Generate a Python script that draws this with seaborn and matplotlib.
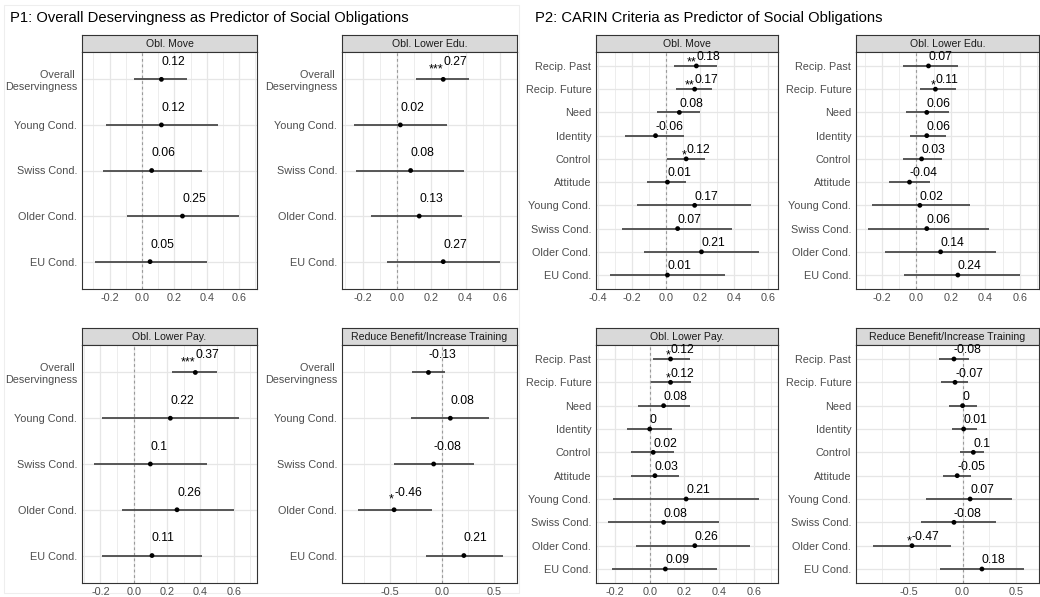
import numpy as np
import pandas as pd
import matplotlib
matplotlib.use("Agg")
import matplotlib.pyplot as plt
from matplotlib.patches import Rectangle
from matplotlib.ticker import MultipleLocator
import seaborn as sns

# ---------------------------------------------------------------- data
p1_terms = ["Overall \nDeservingness", "Young Cond.", "Swiss Cond.",
            "Older Cond.", "EU Cond."]
p2_terms = ["Recip. Past", "Recip. Future", "Need", "Identity", "Control",
            "Attitude", "Young Cond.", "Swiss Cond.", "Older Cond.", "EU Cond."]

# P1: overall deservingness models
p1_move_est = [0.12, 0.12, 0.06, 0.25, 0.05]
p1_move_lo = [-0.05, -0.22, -0.24, -0.09, -0.29]
p1_move_hi = [0.28, 0.47, 0.37, 0.60, 0.40]
p1_move_sig = ["", "", "", "", ""]

p1_edu_est = [0.27, 0.02, 0.08, 0.13, 0.27]
p1_edu_lo = [0.11, -0.25, -0.24, -0.15, -0.06]
p1_edu_hi = [0.42, 0.29, 0.39, 0.38, 0.60]
p1_edu_sig = ["***", "", "", "", ""]

p1_pay_est = [0.37, 0.22, 0.10, 0.26, 0.11]
p1_pay_lo = [0.23, -0.19, -0.24, -0.07, -0.19]
p1_pay_hi = [0.50, 0.63, 0.44, 0.60, 0.41]
p1_pay_sig = ["***", "", "", "", ""]

p1_red_est = [-0.13, 0.08, -0.08, -0.46, 0.21]
p1_red_lo = [-0.29, -0.30, -0.46, -0.81, -0.15]
p1_red_hi = [0.03, 0.45, 0.31, -0.10, 0.59]
p1_red_sig = ["", "", "", "*", ""]

# P2: CARIN criteria models
p2_move_est = [0.18, 0.17, 0.08, -0.06, 0.12, 0.01, 0.17, 0.07, 0.21, 0.01]
p2_move_lo = [0.05, 0.06, -0.05, -0.24, 0.01, -0.11, -0.17, -0.26, -0.13, -0.33]
p2_move_hi = [0.30, 0.27, 0.20, 0.11, 0.23, 0.12, 0.50, 0.39, 0.55, 0.35]
p2_move_sig = ["**", "**", "", "", "*", "", "", "", "", ""]

p2_edu_est = [0.07, 0.11, 0.06, 0.06, 0.03, -0.04, 0.02, 0.06, 0.14, 0.24]
p2_edu_lo = [-0.08, 0.02, -0.06, -0.04, -0.08, -0.16, -0.26, -0.28, -0.18, -0.07]
p2_edu_hi = [0.24, 0.23, 0.19, 0.17, 0.15, 0.08, 0.31, 0.42, 0.46, 0.60]
p2_edu_sig = ["", "*", "", "", "", "", "", "", "", ""]

p2_pay_est = [0.12, 0.12, 0.08, 0, 0.02, 0.03, 0.21, 0.08, 0.26, 0.09]
p2_pay_lo = [0.02, 0.01, -0.07, -0.13, -0.11, -0.11, -0.21, -0.24, -0.08, -0.22]
p2_pay_hi = [0.23, 0.24, 0.23, 0.13, 0.14, 0.17, 0.63, 0.40, 0.58, 0.39]
p2_pay_sig = ["*", "*", "", "", "", "", "", "", "", ""]

p2_red_est = [-0.08, -0.07, 0, 0.01, 0.10, -0.05, 0.07, -0.08, -0.47, 0.18]
p2_red_lo = [-0.22, -0.20, -0.13, -0.10, -0.02, -0.18, -0.34, -0.39, -0.83, -0.21]
p2_red_hi = [0.06, 0.05, 0.13, 0.13, 0.20, 0.08, 0.46, 0.31, -0.11, 0.57]
p2_red_sig = ["", "", "", "", "", "", "", "", "*", ""]

facet_titles = ["Obl. Move", "Obl. Lower Edu.", "Obl. Lower Pay.",
                "Reduce Benefit/Increase Training"]
group_titles = ["P1: Overall Deservingness as Predictor of Social Obligations",
                "P2: CARIN Criteria as Predictor of Social Obligations"]

# ---------------------------------------------------------------- style
sns.set_theme(style="white")
plt.rcParams["font.family"] = ["Liberation Sans", "DejaVu Sans"]

W, H = 1040, 597
fig = plt.figure(figsize=(W / 100, H / 100), dpi=100)
fig.patch.set_facecolor("white")

GRID = "#E6E6E6"
BORDER = "#333333"
TICKTXT = "#4D4D4D"


def px_rect(x0, y0, x1, y1):
    return [x0 / W, 1 - y1 / H, (x1 - x0) / W, (y1 - y0) / H]


def forest_panel(box, strip_top, title, terms, est, lo, hi, sig, xlim, major):
    x0, y0, x1, y1 = box
    ax = fig.add_axes(px_rect(x0, y0, x1, y1))
    ax.set_zorder(2)
    n = len(terms)
    unit_px = (y1 - y0) / (n - 1 + 1.2)
    df = pd.DataFrame({"term": terms, "pos": np.arange(n), "est": est,
                       "lo": lo, "hi": hi, "sig": sig})

    ax.set_xlim(*xlim)
    ax.set_ylim(n - 1 + 0.6, -0.6)
    ax.xaxis.set_major_locator(MultipleLocator(major))
    ax.xaxis.set_minor_locator(MultipleLocator(major / 2))
    ax.grid(which="major", axis="both", color=GRID, lw=0.9, zorder=0)
    ax.grid(which="minor", axis="x", color=GRID, lw=0.5, zorder=0)
    ax.set_axisbelow(True)

    ax.axvline(0, color="#9A9A9A", lw=0.8, ls=(0, (2.5, 2.5)), zorder=1)
    ax.hlines(df["pos"], df["lo"], df["hi"], color="#4A4A4A", lw=1.3, zorder=2)
    sns.scatterplot(data=df, x="est", y="pos", color="black", s=12,
                    edgecolor="none", ax=ax, zorder=3, legend=False)

    for _, r in df.iterrows():
        ax.text(r["est"], r["pos"] - 0.375, f"{r['est']:g}", ha="left",
                va="center", fontsize=8.7, color="black", zorder=4,
                clip_on=False)
        if r["sig"]:
            ax.text(r["est"], r["pos"] - 0.29 + 3.0 / unit_px, r["sig"],
                    ha="right", va="center", fontsize=9, color="black",
                    zorder=4, clip_on=False)

    ax.set_yticks(df["pos"])
    ax.set_yticklabels(terms, multialignment="right")
    ax.set_xlabel("")
    ax.set_ylabel("")
    ticks = ax.get_xticks()
    ax.set_xticks([t for t in ticks if xlim[0] <= t <= xlim[1]])
    ax.set_xticklabels([f"{t:.1f}" for t in ax.get_xticks()])
    ax.tick_params(axis="both", which="major", length=2.2, width=0.6,
                   color=BORDER, labelsize=7.8, labelcolor=TICKTXT, pad=1.2)
    ax.tick_params(axis="x", which="major", pad=0.6)
    ax.tick_params(which="minor", length=0)
    for s in ax.spines.values():
        s.set_color(BORDER)
        s.set_linewidth(0.8)

    sax = fig.add_axes(px_rect(x0, strip_top, x1, y0))
    sax.set_zorder(1)
    sax.set_facecolor("#D9D9D9")
    sax.set_xticks([])
    sax.set_yticks([])
    for s in sax.spines.values():
        s.set_color(BORDER)
        s.set_linewidth(0.8)
    sax.text(0.5, 0.45, title, ha="center", va="center", fontsize=7.6,
             color="#1A1A1A", transform=sax.transAxes)
    return ax


# ---------------------------------------------------------------- layout
top = (35, 52, 289)
bot = (328, 345, 583)
cols = [(82, 257), (342, 517), (596, 778), (856, 1039)]

forest_panel((cols[0][0], top[1], cols[0][1], top[2]), top[0], facet_titles[0],
             p1_terms, p1_move_est, p1_move_lo, p1_move_hi, p1_move_sig,
             (-0.37, 0.71), 0.2)
forest_panel((cols[1][0], top[1], cols[1][1], top[2]), top[0], facet_titles[1],
             p1_terms, p1_edu_est, p1_edu_lo, p1_edu_hi, p1_edu_sig,
             (-0.32, 0.70), 0.2)
forest_panel((cols[0][0], bot[1], cols[0][1], bot[2]), bot[0], facet_titles[2],
             p1_terms, p1_pay_est, p1_pay_lo, p1_pay_hi, p1_pay_sig,
             (-0.31, 0.74), 0.2)
forest_panel((cols[1][0], bot[1], cols[1][1], bot[2]), bot[0], facet_titles[3],
             p1_terms, p1_red_est, p1_red_lo, p1_red_hi, p1_red_sig,
             (-0.96, 0.72), 0.5)

forest_panel((cols[2][0], top[1], cols[2][1], top[2]), top[0], facet_titles[0],
             p2_terms, p2_move_est, p2_move_lo, p2_move_hi, p2_move_sig,
             (-0.41, 0.66), 0.2)
forest_panel((cols[3][0], top[1], cols[3][1], top[2]), top[0], facet_titles[1],
             p2_terms, p2_edu_est, p2_edu_lo, p2_edu_hi, p2_edu_sig,
             (-0.35, 0.71), 0.2)
forest_panel((cols[2][0], bot[1], cols[2][1], bot[2]), bot[0], facet_titles[2],
             p2_terms, p2_pay_est, p2_pay_lo, p2_pay_hi, p2_pay_sig,
             (-0.31, 0.74), 0.2)
forest_panel((cols[3][0], bot[1], cols[3][1], bot[2]), bot[0], facet_titles[3],
             p2_terms, p2_red_est, p2_red_lo, p2_red_hi, p2_red_sig,
             (-0.99, 0.71), 0.5)

fig.text(10 / W, 1 - 18 / H, group_titles[0], ha="left", va="center",
         fontsize=10.6, color="black")
fig.text(535 / W, 1 - 18 / H, group_titles[1], ha="left", va="center",
         fontsize=10.6, color="black")

# faint frame around the first block
fig.patches.append(Rectangle((4 / W, 1 - 593 / H), 515 / W, 588 / H,
                             transform=fig.transFigure, fill=False,
                             edgecolor="#EEEEEE", lw=0.8))

fig.savefig("out.png", dpi=100, facecolor="white")
